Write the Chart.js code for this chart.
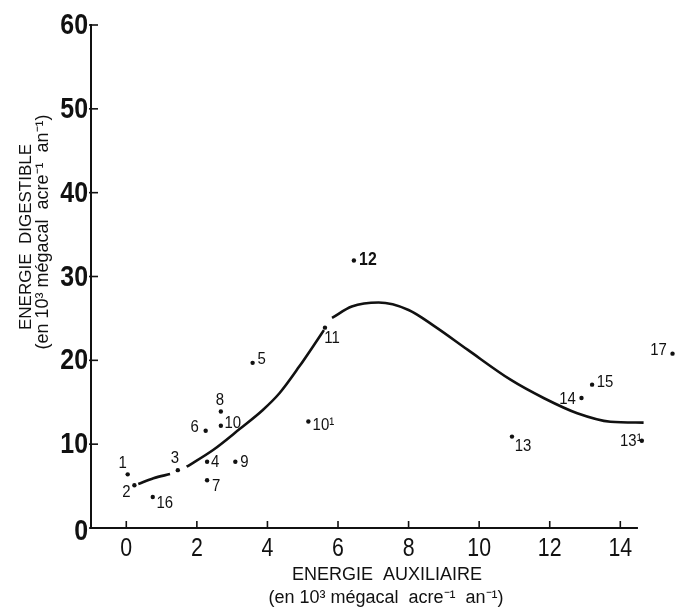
<!DOCTYPE html>
<html>
<head>
<meta charset="utf-8">
<script src="https://cdn.jsdelivr.net/npm/chart.js@4.4.1/dist/chart.umd.min.js"></script>
<style>
  body { margin: 0; background: #fff; }
  #wrap { width: 679px; height: 610px; }
</style>
</head>
<body>
<div id="wrap"><canvas id="chart" width="679" height="610"></canvas></div>
<script>
// Points
const pointLabels = ['1', '2', '3', '4', '5', '6', '7', '8', '9', '10', '10¹', '11', '12', '13', '13¹', '14', '15', '16', '17'];
const pointX = [0.04, 0.23, 1.46, 2.29, 3.58, 2.25, 2.29, 2.68, 3.09, 2.68, 5.16, 5.63, 6.45, 10.93, 14.61, 12.9, 13.2, 0.75, 15.48];
const pointY = [6.4, 5.1, 6.9, 7.9, 19.7, 11.6, 5.7, 13.9, 7.9, 12.2, 12.7, 23.9, 31.9, 10.9, 10.4, 15.5, 17.1, 3.7, 20.8];

// Hand drawn curve, broken where labels 3 and 11 sit (null = break)
const curveX = [0.34, 0.77, 1.24, null,
                1.71, 2.46, 3.21, 3.87, 4.34, 4.9, 5.41, 5.6, null,
                5.83, 6.39, 7.15, 8.0, 8.75, 9.68, 10.9, 11.84, 12.78, 13.72, 14.66];
const curveY = [5.25, 5.93, 6.44, null,
                7.31, 9.31, 11.8, 14.08, 16.07, 19.25, 22.4, 23.6, null,
                25.06, 26.41, 26.89, 26.01, 24.02, 21.24, 17.66, 15.48, 13.69, 12.68, 12.57];

const xTicks = [0, 2, 4, 6, 8, 10, 12, 14];
const yTicks = [0, 10, 20, 30, 40, 50, 60];
const xAxisEnd = 14.5; // the drawn axis line stops here, point 17 sits past it

const SANS = "'Liberation Sans', Arial, sans-serif";

// label offsets from the dot, in pixels
const labelOffsets = {
    '1': [-5, -11], '2': [-8, 7], '3': [-3, -12], '4': [8, 1], '5': [9, -4],
    '6': [-11, -3], '7': [9, 6], '8': [-1, -11], '9': [9, 1], '10': [12, -2],
    '10¹': [15, 4], '11': [7, 11], '12': [14, -1], '13': [11, 10], '13¹': [-11, 0],
    '14': [-14, 1], '15': [13, -2], '16': [12, 6], '17': [-14, -3]
};

// split curve into segments at the nulls
const segments = [];
let cur = [];
curveX.forEach((x, i) => {
    if (x === null) { segments.push(cur); cur = []; }
    else cur.push({ x: x, y: curveY[i] });
});
segments.push(cur);

const pointData = pointX.map((x, i) => ({ x: x, y: pointY[i] }));

const datasets = segments.map(seg => ({
    type: 'line',
    data: seg,
    borderColor: '#111',
    borderWidth: 2.6,
    pointRadius: 0,
    cubicInterpolationMode: 'monotone',
    fill: false,
    clip: false
}));
datasets.push({
    type: 'scatter',
    data: pointData,
    backgroundColor: '#111',
    borderWidth: 0,
    pointRadius: 2.2,
    clip: false
});

// draws text squeezed horizontally, the figure uses a condensed face
const squeezed = (ctx, text, x, y, font, sx, align) => {
    ctx.save();
    ctx.translate(x, y);
    ctx.scale(sx, 1);
    ctx.font = font;
    ctx.textAlign = align || 'center';
    ctx.fillText(text, 0, 0);
    ctx.restore();
};

// Axis line, inward ticks, tick labels, point labels and axis titles
const decorations = {
    id: 'decorations',
    afterDraw(chart) {
        const { ctx, chartArea } = chart;
        const x = chart.scales.x, y = chart.scales.y;
        ctx.save();
        ctx.fillStyle = '#111';
        ctx.strokeStyle = '#111';
        ctx.textBaseline = 'middle';

        // x axis line
        ctx.lineWidth = 2;
        ctx.beginPath();
        ctx.moveTo(chartArea.left - 1, chartArea.bottom);
        ctx.lineTo(x.getPixelForValue(xAxisEnd), chartArea.bottom);
        ctx.stroke();

        // tick marks pointing into the plot
        ctx.lineWidth = 1.6;
        xTicks.forEach(v => {
            const px = x.getPixelForValue(v);
            ctx.beginPath();
            ctx.moveTo(px, chartArea.bottom);
            ctx.lineTo(px, chartArea.bottom - 7);
            ctx.stroke();
            squeezed(ctx, String(v), px, chartArea.bottom + 21, '26px ' + SANS, 0.82);
        });
        yTicks.forEach(v => {
            const py = y.getPixelForValue(v);
            ctx.beginPath();
            ctx.moveTo(chartArea.left - 2, py);
            ctx.lineTo(chartArea.left + 7, py);
            ctx.stroke();
            squeezed(ctx, String(v), chartArea.left - 3, py + (v === 0 ? 4 : 1), 'bold 29px ' + SANS, 0.86, 'right');
        });

        // point labels
        pointLabels.forEach((lab, i) => {
            const off = labelOffsets[lab];
            const font = (lab === '12' ? 'bold 18px ' : '17px ') + SANS;
            squeezed(ctx, lab, x.getPixelForValue(pointX[i]) + off[0], y.getPixelForValue(pointY[i]) + off[1], font, 0.88);
        });

        // x axis title
        ctx.textAlign = 'center';
        ctx.font = '18px ' + SANS;
        ctx.fillText('ENERGIE  AUXILIAIRE', 387, 575);
        ctx.font = '18px ' + SANS;
        ctx.fillText('(en 10³ mégacal  acre⁻¹  an⁻¹)', 386, 598);

        // y axis title
        ctx.translate(26, 237);
        ctx.rotate(-Math.PI / 2);
        ctx.font = '17px ' + SANS;
        ctx.fillText('ENERGIE  DIGESTIBLE', 0, 0);
        ctx.font = '18px ' + SANS;
        ctx.fillText('(en 10³ mégacal  acre⁻¹  an⁻¹)', 5, 17);
        ctx.restore();
    }
};

new Chart(document.getElementById('chart'), {
    type: 'scatter',
    data: { datasets: datasets },
    options: {
        responsive: false,
        animation: false,
        layout: { padding: { top: 25, right: 0, left: 0, bottom: 0 } },
        plugins: { legend: { display: false }, tooltip: { enabled: false } },
        scales: {
            x: {
                type: 'linear',
                min: -1,
                max: 15.55,
                afterBuildTicks: s => { s.ticks = xTicks.map(v => ({ value: v })); },
                afterFit: s => { s.height = 82; },
                grid: { display: false, drawTicks: false },
                border: { display: false },
                ticks: { display: false }
            },
            y: {
                type: 'linear',
                min: 0,
                max: 60,
                afterBuildTicks: s => { s.ticks = yTicks.map(v => ({ value: v })); },
                afterFit: s => { s.width = 91; },
                grid: { display: false, drawTicks: false },
                border: { display: true, color: '#111', width: 2 },
                ticks: { display: false }
            }
        }
    },
    plugins: [decorations]
});
</script>
</body>
</html>
